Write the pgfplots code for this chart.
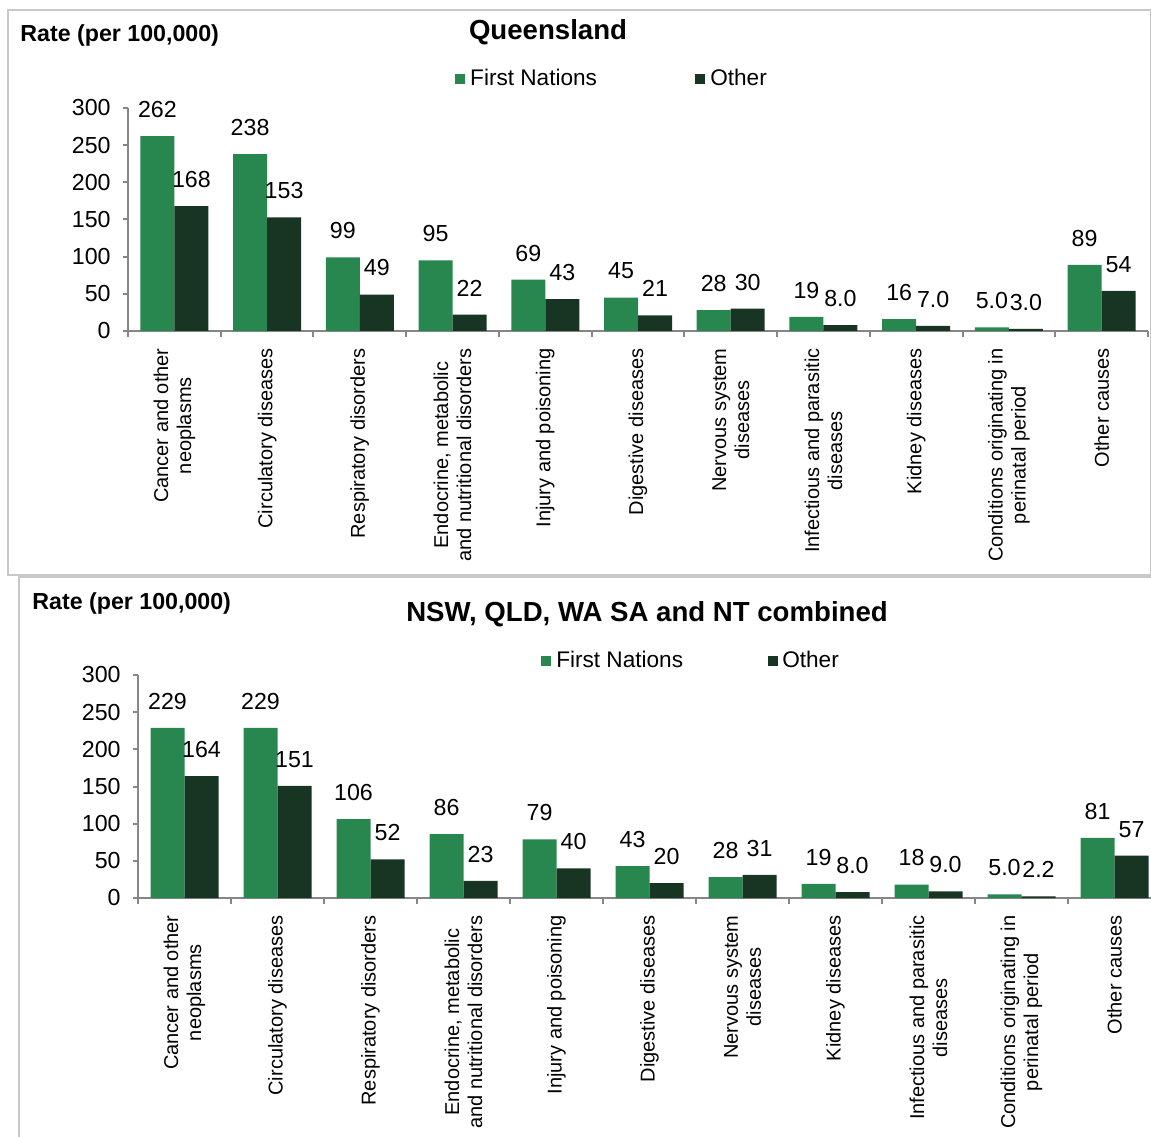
\documentclass[border=0pt]{standalone}
\usepackage{fontspec}
\setmainfont{Liberation Sans}
\usepackage{pgfplots}
\pgfplotsset{compat=1.18}
\usepackage{pgfplotstable}

\definecolor{fngreen}{RGB}{39,135,79}
\definecolor{otdark}{RGB}{24,52,35}
\definecolor{axgrey}{RGB}{134,134,134}
\definecolor{framegrey}{RGB}{200,200,200}

% Rates per 100,000: First Nations (fn) and other (ot)
\pgfplotstableread{
x fn ot
0 262 168
1 238 153
2 99 49
3 95 22
4 69 43
5 45 21
6 28 30
7 19 8.0
8 16 7.0
9 5.0 3.0
10 89 54
}\qldtable

\pgfplotstableread{
x fn ot
0 229 164
1 229 151
2 106 52
3 86 23
4 79 40
5 43 20
6 28 31
7 19 8.0
8 18 9.0
9 5.0 2.2
10 81 57
}\combtable

% position helper: pixel-like grid, origin top left
\newcommand{\px}[2]{({#1*0.5pt},{(1136-#2)*0.5pt})}

\pgfplotsset{
  sqlegend/.style={legend image code/.code={\path[##1,draw=none] (0pt,-2.5pt) rectangle (5pt,2.5pt);}},
  deathchart/.style={
    scale only axis,
    height=111.5pt,
    ybar=0pt, bar width=17pt,
    ymin=0, ymax=300, ytick={0,50,...,300},
    xmin=-0.5, xmax=10.5,
    axis x line*=bottom, axis y line*=left,
    axis line style={axgrey, line width=1pt},
    every tick/.style={axgrey, line width=1pt},
    tick align=outside,
    xtick={0,...,10},
    major x tick style={draw=none},
    minor xtick={-0.5,0.5,...,10.5},
    major tick length=2.5pt,
    minor tick length=3pt,
    /pgf/number format/assume math mode=true,
    yticklabel style={font=\fontsize{11.6}{13}\selectfont, inner sep=0pt},
    yticklabel shift=6pt,
    xticklabel style={font=\fontsize{10}{11.5}\selectfont, rotate=90, anchor=east, align=center, inner sep=0pt},
    xticklabel shift=6pt,
    nodes near coords,
    point meta=explicit symbolic,
    every node near coord/.append style={font=\fontsize{11.6}{13}\selectfont, inner sep=0pt, anchor=south, yshift=9pt, text=black},
    legend columns=2,
    legend cell align=left,
    legend style={draw=none, fill=none, inner sep=0pt, font=\fontsize{11.3}{13}\selectfont,
      nodes={inner sep=1.2pt},
      /tikz/every odd column/.append style={column sep=1.2pt}},
  },
}

\begin{document}
\begin{tikzpicture}
% panel frames
\draw[framegrey, line width=0.6pt] \px{8}{10} rectangle \px{1151}{575};
\draw[framegrey, line width=0.6pt] \px{19}{577} rectangle \px{1170}{1150};

% ---------- Queensland ----------
\node[anchor=west, inner sep=0pt, font=\bfseries\fontsize{11.6}{14}\selectfont] at \px{20}{36} {Rate (per 100,000)};
\node[inner sep=0pt, font=\bfseries\fontsize{13.8}{16}\selectfont] at \px{548}{32} {Queensland};
\begin{axis}[deathchart,
  width=510pt,
  at={(64pt,402.5pt)}, anchor=south west,
  xticklabels={{Cancer and other\\neoplasms},{Circulatory diseases},{Respiratory disorders},
    {Endocrine, metabolic\\and nutritional disorders},{Injury and poisoning},{Digestive diseases},
    {Nervous system\\diseases},{Infectious and parasitic\\diseases},{Kidney diseases},
    {Conditions originating in\\perinatal period},{Other causes}},
  legend style={at={(0.3206,1.13)}, anchor=west,
    /tikz/every even column/.append style={column sep=48pt}},
]
\addplot[fill=fngreen, draw=none, sqlegend] table[x=x, y=fn, meta=fn] {\qldtable};
\addplot[fill=otdark, draw=none, sqlegend] table[x=x, y=ot, meta=ot] {\qldtable};
\legend{First Nations, Other}
\end{axis}

% ---------- NSW, QLD, WA, SA and NT ----------
\node[anchor=west, inner sep=0pt, font=\bfseries\fontsize{11.6}{14}\selectfont] at \px{32}{604} {Rate (per 100,000)};
\node[inner sep=0pt, font=\bfseries\fontsize{13.8}{16}\selectfont] at \px{647}{614} {NSW, QLD, WA SA and NT combined};
\begin{axis}[deathchart,
  width=511.5pt,
  at={(69pt,119pt)}, anchor=south west,
  xticklabels={{Cancer and other\\neoplasms},{Circulatory diseases},{Respiratory disorders},
    {Endocrine, metabolic\\and nutritional disorders},{Injury and poisoning},{Digestive diseases},
    {Nervous system\\diseases},{Kidney diseases},{Infectious and parasitic\\diseases},
    {Conditions originating in\\perinatal period},{Other causes}},
  legend style={at={(0.394,1.063)}, anchor=west,
    /tikz/every even column/.append style={column sep=41pt}},
]
\addplot[fill=fngreen, draw=none, sqlegend] table[x=x, y=fn, meta=fn] {\combtable};
\addplot[fill=otdark, draw=none, sqlegend] table[x=x, y=ot, meta=ot] {\combtable};
\legend{First Nations, Other}
\end{axis}

\pgfresetboundingbox
\path \px{0}{0} rectangle \px{1151}{1136};
\end{tikzpicture}
\end{document}
